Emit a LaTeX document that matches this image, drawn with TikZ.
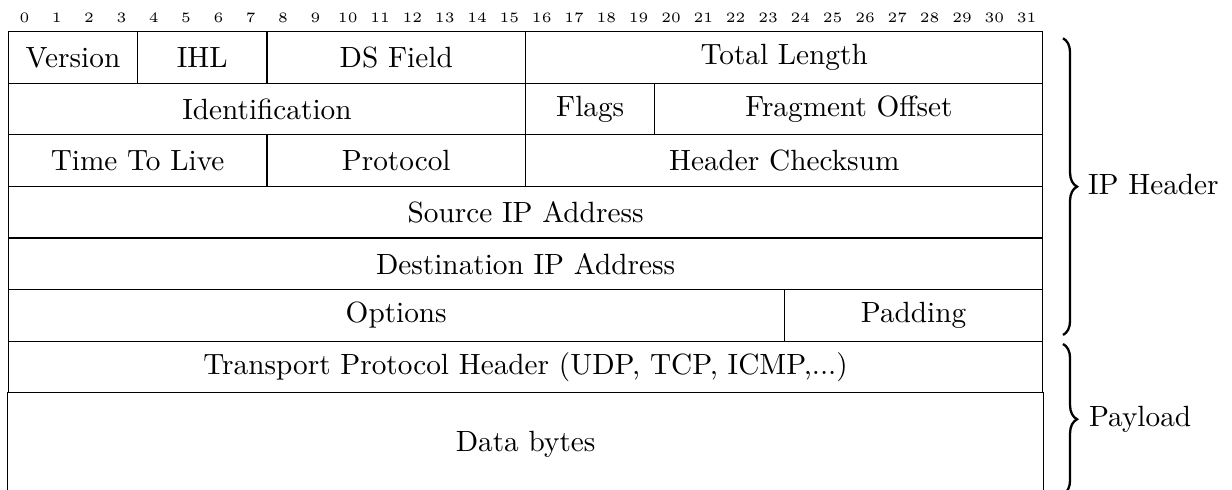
\documentclass[tikz,border=0pt]{standalone}
\usetikzlibrary{decorations.pathreplacing}
\def\bw{32.33}
\def\rh{51.57}
\def\lx{8.3}
\def\ty{31.7}
\newcommand{\fld}[5]{%
  \node[field, minimum width={#3*\bw*0.3484pt}, minimum height={\rh*0.3484pt}]
    (#1) at ({\lx+(#2+#3/2)*\bw},{\ty+(#4+0.5)*\rh}) {#5};}
\begin{document}
\begin{tikzpicture}[x=0.3484pt, y=-0.3484pt,
  field/.style={draw, line width=0.4pt, inner sep=0pt, font=\fontsize{10.2}{12}\selectfont},
  bitnum/.style={inner sep=0pt, font=\fontsize{5}{6}\selectfont},
  bracedec/.style={decorate, decoration={brace, amplitude=4.9pt}, line width=0.8pt},
  sidelabel/.style={anchor=base west, inner sep=0pt, font=\fontsize{10.2}{12}\selectfont}]
\useasboundingbox (0,0) rectangle (1232,490);

% bit numbers
\foreach \i in {0,...,31}{
  \node[bitnum] (b\i) at ({\lx+(\i+0.5)*\bw},17.5) {\i};
}

% row 0
\fld{ver}{0}{4}{0}{Version}
\fld{ihl}{4}{4}{0}{IHL}
\fld{ds}{8}{8}{0}{DS Field}
\fld{tl}{16}{16}{0}{Total Length}
% row 1
\fld{id}{0}{16}{1}{Identification}
\fld{fl}{16}{4}{1}{Flags}
\fld{fo}{20}{12}{1}{Fragment Offset}
% row 2
\fld{ttl}{0}{8}{2}{Time To Live}
\fld{pr}{8}{8}{2}{Protocol}
\fld{hc}{16}{16}{2}{Header Checksum}
% rows 3-4
\fld{src}{0}{32}{3}{Source IP Address}
\fld{dst}{0}{32}{4}{Destination IP Address}
% row 5
\fld{opt}{0}{24}{5}{Options}
\fld{pad}{24}{8}{5}{Padding}
% row 6
\fld{tph}{0}{32}{6}{Transport Protocol Header (UDP, TCP, ICMP,...)}
% data (open at the bottom)
\node[inner sep=0pt, font=\fontsize{10.2}{12}\selectfont,
      minimum width={32*\bw*0.3484pt}, minimum height={2*\rh*0.3484pt}]
  (data) at ({\lx+16*\bw},{\ty+8*\rh}) {Data bytes};
\draw[line width=0.4pt] (data.north west) -- (data.south west);
\draw[line width=0.4pt] (data.north east) -- (data.south east);

% braces
\coordinate (ipt) at (1063,38.3);
\coordinate (ipb) at (1063,335);
\coordinate (plt) at (1063,344);
\coordinate (plb) at (1063,494.5);
\draw[bracedec] (ipt) -- (ipb);
\draw[bracedec] (plt) -- (plb);
\node[sidelabel] (iplabel) at (1087.5,194) {IP Header};
\node[sidelabel] (pllabel) at (1088.5,426.7) {Payload};
\end{tikzpicture}
\end{document}
